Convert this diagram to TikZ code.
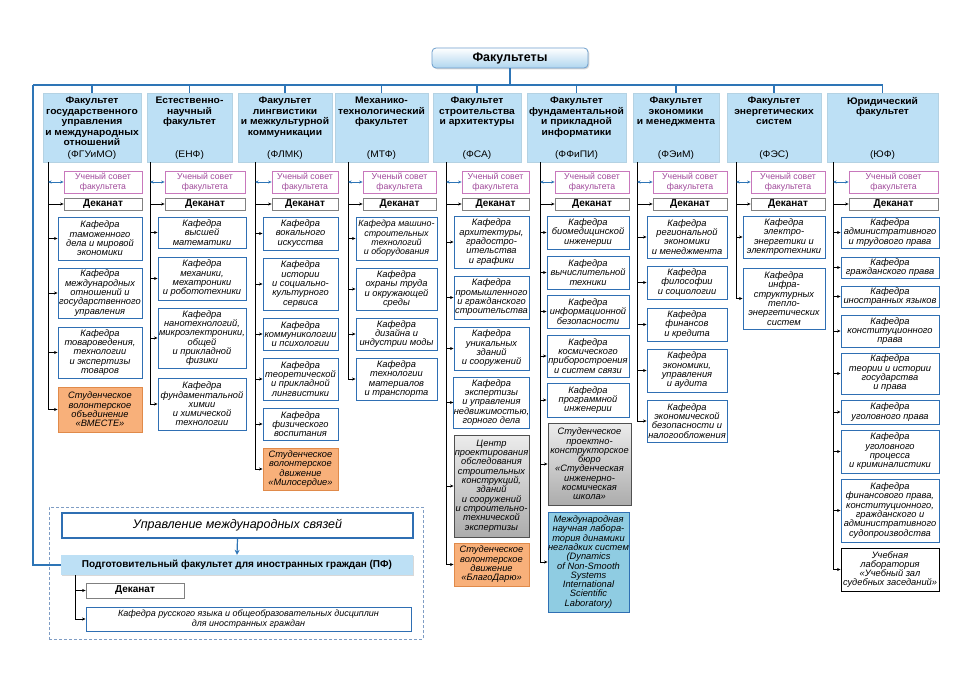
\documentclass[tikz,border=0pt]{standalone}
\usepackage{fontspec}
\setmainfont{Liberation Sans}
\newfontfamily\widefont[FakeStretch=1.08]{Liberation Sans}
\usetikzlibrary{arrows.meta,shadows,calc}
\definecolor{busc}{HTML}{2E75B6}
\definecolor{facfill}{HTML}{BDE0F5}
\definecolor{kafb}{HTML}{2F6FB3}
\definecolor{pinkb}{HTML}{C878BC}
\definecolor{pinkt}{HTML}{A0489A}
\definecolor{orf}{HTML}{F8B07A}
\definecolor{orb}{HTML}{E08A4A}
\definecolor{labf}{HTML}{8FCCE2}
\definecolor{grb}{HTML}{505050}
\definecolor{dekb}{HTML}{808080}
\definecolor{dashc}{HTML}{7F9DC4}
\newcommand\ftt{\widefont\fontsize{9.5}{10.5}\selectfont\bfseries}
\newcommand\fab{\widefont\fontsize{9.5}{10.5}\selectfont}
\newcommand\kt{\fontsize{9.3}{9.3}\selectfont\itshape}
\newcommand\stt{\fontsize{8.7}{10}\selectfont}
\newcommand\dtt{\fontsize{10}{11}\selectfont\bfseries}
\newcommand\bx[7]{\node[#1,minimum width={#5-#3},minimum height={#6-#4}] (#2) at ({(#3+#5)/2},{(#4+#6)/2}) {#7};}
\newcommand\fac[5]{%
  \node[facbox,minimum width={#3-#2},minimum height=69] (#1) at ({(#2+#3)/2},127.5) {};
  \node[ftitle,anchor=north] (#1t) at ($(#1.north)+(0,4)$) {#4};
  \node[fabbr] (#1a) at ($(#1.south)+(0,-7.5)$) {#5};}
\tikzset{
  shad/.style={drop shadow={shadow xshift=1.3pt,shadow yshift=-1.3pt,opacity=0.3}},
  facbox/.style={fill=facfill,draw=facfill!85!gray,line width=0.4pt,inner sep=0pt,shad},
  ftitle/.style={font=\ftt,align=center,inner sep=0pt},
  fabbr/.style={font=\fab,inner sep=0pt},
  kaf/.style={draw=kafb,line width=0.9pt,fill=white,inner sep=0pt,align=center,font=\kt,shad},
  sov/.style={draw=pinkb,line width=0.8pt,fill=white,text=pinkt,align=center,font=\stt,inner sep=0pt},
  dek/.style={draw=dekb,line width=0.8pt,fill=white,font=\dtt,inner sep=0pt},
  orng/.style={kaf,draw=orb,fill=orf},
  gry/.style={kaf,draw=grb,top color=gray!15,bottom color=gray!65},
  lab/.style={kaf,fill=labf},
  lab2/.style={kaf,draw=black},
  topbox/.style={draw=busc!70,line width=0.8pt,rounded corners=4pt,top color=white,bottom color=facfill!90!busc,font=\fontsize{12.5}{14}\selectfont\bfseries,inner sep=0pt,shad},
  bus/.style={draw=busc,line width=1.5pt},
  kline/.style={draw=black,line width=0.8pt},
  karr/.style={draw=black,line width=0.7pt,-{Stealth[length=3.5pt,width=3pt]}},
  uarr/.style={draw=busc,line width=0.9pt,{Stealth[length=3.5pt,width=3pt]}-{Stealth[length=3.5pt,width=3pt]}},
  barr/.style={draw=busc,line width=1.2pt,-{Stealth[length=5pt,width=5pt]}},
  dashbox/.style={draw=dashc,line width=1pt,dash pattern=on 3pt off 2pt,inner sep=0pt},
  upr/.style={draw=kafb,line width=1.1pt,fill=white,inner sep=0pt,font=\fontsize{12.5}{14}\selectfont\itshape,shad},
  pfs/.style={fill=facfill,inner sep=0pt,font=\fontsize{10}{11}\selectfont\bfseries,shad}
}
\begin{document}
\begin{tikzpicture}[x=1pt,y=-1pt]
\useasboundingbox[fill=white] (0,0) rectangle (960,679);

% bottom dashed area
\node[dashbox,minimum width=374,minimum height=132] (dz) at (236,573) {};

% top
\node[topbox,minimum width=156,minimum height=20] (top) at (510,58) {Факультеты};

% faculties
\fac{f1}{43}{141}{Факультет\\государственного\\управления\\и международных\\отношений}{(ФГУиМО)}
\fac{f2}{147}{232}{Естественно-\\научный\\факультет}{(ЕНФ)}
\fac{f3}{238}{332}{Факультет\\лингвистики\\и межкультурной\\коммуникации}{(ФЛМК)}
\fac{f4}{335}{428}{Механико-\\технологический\\факультет}{(МТФ)}
\fac{f5}{433}{521}{Факультет\\строительства\\и архитектуры}{(ФСА)}
\fac{f6}{527}{626}{Факультет\\фундаментальной\\и прикладной\\информатики}{(ФФиПИ)}
\fac{f7}{633}{719}{Факультет\\экономики\\и менеджмента}{(ФЭиМ)}
\fac{f8}{727}{821}{Факультет\\энергетических\\систем}{(ФЭС)}
\fac{f9}{827}{938}{Юридический\\факультет}{(ЮФ)}

% column 1
\coordinate (L1) at (48,0);
\bx{sov}{u1}{64}{171}{142}{193}{Ученый совет\\факультета}
\bx{dek}{d1}{64}{198}{142}{210}{Деканат}
\bx{kaf}{k1a}{58}{217}{142}{260}{Кафедра\\таможенного\\дела и мировой\\экономики}
\bx{kaf}{k1b}{58}{268}{142}{318}{Кафедра\\международных\\отношений и\\государственного\\управления}
\bx{kaf}{k1c}{58}{327}{142}{378}{Кафедра\\товароведения,\\технологии\\и экспертизы\\товаров}
\bx{orng}{k1d}{58}{387}{142}{432}{Студенческое\\волонтерское\\объединение\\«ВМЕСТЕ»}

% column 2
\coordinate (L2) at (150,0);
\bx{sov}{u2}{165}{171}{245}{193}{Ученый совет\\факультета}
\bx{dek}{d2}{165}{198}{245}{210}{Деканат}
\bx{kaf}{k2a}{158}{217}{246}{248}{Кафедра\\высшей\\математики}
\bx{kaf}{k2b}{158}{257}{246}{300}{Кафедра\\механики,\\мехатроники\\и робототехники}
\bx{kaf}{k2c}{158}{308}{246}{368}{Кафедра\\нанотехнологий,\\микроэлектроники,\\общей\\и прикладной\\физики}
\bx{kaf}{k2d}{158}{378}{246}{430}{Кафедра\\фундаментальной\\химии\\и химической\\технологии}

% column 3
\coordinate (L3) at (255,0);
\bx{sov}{u3}{272}{171}{338}{193}{Ученый совет\\факультета}
\bx{dek}{d3}{272}{198}{338}{210}{Деканат}
\bx{kaf}{k3a}{263}{217}{338}{250}{Кафедра\\вокального\\искусства}
\bx{kaf}{k3b}{263}{258}{338}{310}{Кафедра\\истории\\и социально-\\культурного\\сервиса}
\bx{kaf}{k3c}{263}{318}{338}{350}{Кафедра\\коммуникологии\\и психологии}
\bx{kaf}{k3d}{263}{358}{338}{400}{Кафедра\\теоретической\\и прикладной\\лингвистики}
\bx{kaf}{k3e}{263}{408}{338}{440}{Кафедра\\физического\\воспитания}
\bx{orng}{k3f}{263}{448}{338}{490}{Студенческое\\волонтерское\\движение\\«Милосердие»}

% column 4
\coordinate (L4) at (348,0);
\bx{sov}{u4}{363}{171}{436}{193}{Ученый совет\\факультета}
\bx{dek}{d4}{363}{198}{436}{210}{Деканат}
\bx{kaf,font=\fontsize{8.9}{9.3}\selectfont\itshape}{k4a}{356}{217}{437}{260}{Кафедра машино-\\строительных\\технологий\\и оборудования}
\bx{kaf}{k4b}{356}{268}{437}{310}{Кафедра\\охраны труда\\и окружающей\\среды}
\bx{kaf}{k4c}{356}{318}{437}{350}{Кафедра\\дизайна и\\индустрии моды}
\bx{kaf}{k4d}{356}{358}{437}{400}{Кафедра\\технологии\\материалов\\и транспорта}

% column 5
\coordinate (L5) at (446,0);
\bx{sov}{u5}{462}{171}{529}{193}{Ученый совет\\факультета}
\bx{dek}{d5}{462}{198}{529}{210}{Деканат}
\bx{kaf}{k5a}{454}{216}{529}{268}{Кафедра\\архитектуры,\\градостро-\\ительства\\и графики}
\bx{kaf}{k5b}{454}{276}{529}{319}{Кафедра\\промышленного\\и гражданского\\строительства}
\bx{kaf}{k5c}{454}{327}{529}{370}{Кафедра\\уникальных\\зданий\\и сооружений}
\bx{kaf}{k5d}{454}{377}{529}{428}{Кафедра\\экспертизы\\и управления\\недвижимостью,\\горного дела}
\bx{gry}{k5e}{454}{435}{529}{537}{Центр\\проектирования\\обследования\\строительных\\конструкций,\\зданий\\и сооружений\\и строительно-\\технической\\экспертизы}
\bx{orng}{k5f}{454}{543}{529}{586}{Студенческое\\волонтерское\\движение\\«БлагоДарю»}

% column 6
\coordinate (L6) at (540,0);
\bx{sov}{u6}{555}{171}{629}{193}{Ученый совет\\факультета}
\bx{dek}{d6}{555}{198}{629}{210}{Деканат}
\bx{kaf}{k6a}{547}{216}{629}{249}{Кафедра\\биомедицинской\\инженерии}
\bx{kaf}{k6b}{547}{256}{629}{289}{Кафедра\\вычислительной\\техники}
\bx{kaf}{k6c}{547}{295}{629}{328}{Кафедра\\информационной\\безопасности}
\bx{kaf}{k6d}{547}{335}{629}{377}{Кафедра\\космического\\приборостроения\\и систем связи}
\bx{kaf}{k6e}{547}{383}{629}{417}{Кафедра\\программной\\инженерии}
\bx{gry}{k6f}{548}{423}{631}{505}{Студенческое\\проектно-\\конструкторское\\бюро\\«Студенческая\\инженерно-\\космическая\\школа»}
\bx{lab}{k6g}{548}{512}{629}{612}{Международная\\научная лабора-\\тория динамики\\негладких систем\\(Dynamics\\of Non-Smooth\\Systems\\International\\Scientific\\Laboratory)}

% column 7
\coordinate (L7) at (637,0);
\bx{sov}{u7}{653}{171}{727}{193}{Ученый совет\\факультета}
\bx{dek}{d7}{653}{198}{727}{210}{Деканат}
\bx{kaf}{k7a}{647}{216}{727}{258}{Кафедра\\региональной\\экономики\\и менеджмента}
\bx{kaf}{k7b}{647}{266}{727}{299}{Кафедра\\философии\\и социологии}
\bx{kaf}{k7c}{647}{308}{727}{341}{Кафедра\\финансов\\и кредита}
\bx{kaf}{k7d}{647}{349}{727}{392}{Кафедра\\экономики,\\управления\\и аудита}
\bx{kaf}{k7e}{647}{400}{727}{442}{Кафедра\\экономической\\безопасности и\\налогообложения}

% column 8
\coordinate (L8) at (736,0);
\bx{sov}{u8}{751}{171}{825}{193}{Ученый совет\\факультета}
\bx{dek}{d8}{751}{198}{825}{210}{Деканат}
\bx{kaf}{k8a}{743}{216}{825}{258}{Кафедра\\электро-\\энергетики и\\электротехники}
\bx{kaf}{k8b}{743}{268}{825}{329}{Кафедра\\инфра-\\структурных\\тепло-\\энергетических\\систем}

% column 9
\coordinate (L9) at (833,0);
\bx{sov}{u9}{849}{171}{938}{193}{Ученый совет\\факультета}
\bx{dek}{d9}{849}{198}{938}{210}{Деканат}
\bx{kaf}{k9a}{841}{217}{939}{248}{Кафедра\\административного\\и трудового права}
\bx{kaf}{k9b}{841}{257}{939}{278}{Кафедра\\гражданского права}
\bx{kaf}{k9c}{841}{286}{939}{307}{Кафедра\\иностранных языков}
\bx{kaf}{k9d}{841}{315}{939}{347}{Кафедра\\конституционного\\права}
\bx{kaf}{k9e}{841}{353}{939}{394}{Кафедра\\теории и истории\\государства\\и права}
\bx{kaf}{k9f}{841}{400}{939}{424}{Кафедра\\уголовного права}
\bx{kaf}{k9g}{841}{430}{939}{473}{Кафедра\\уголовного\\процесса\\и криминалистики}
\bx{kaf}{k9h}{841}{479}{939}{542}{Кафедра\\финансового права,\\конституционного,\\гражданского и\\административного\\судопроизводства}
\bx{lab2}{k9i}{841}{548}{939}{591}{Учебная\\лаборатория\\«Учебный зал\\судебных заседаний»}

% bottom boxes
\bx{upr}{upr}{62}{513}{413}{538}{Управление международных связей}
\bx{pfs}{pf}{61}{555}{413}{575}{Подготовительный факультет для иностранных граждан (ПФ)}
\bx{dek}{pd}{86}{583}{184}{598}{Деканат}
\bx{kaf,font=\fontsize{9}{10}\selectfont\itshape}{pk}{86}{607}{411}{631}{Кафедра русского языка и общеобразовательных дисциплин\\для иностранных граждан}
\coordinate (LP) at (75,0);

% bus
\coordinate (bl) at (33,85);
\draw[bus] (top.south) -- (top.south |- bl);
\draw[bus] (bl) -- (bl -| f9.north);
\foreach \f in {f1,f2,f3,f4,f5,f6,f7,f8,f9} \draw[bus] (bl -| \f.north) -- (\f.north);
\draw[bus] (bl) -- (bl |- pf.west) -- (pf.west);
\draw[barr] (upr.south) -- (pf.north);

% column lines and arrows
\foreach \c/\last in {1/k1d,2/k2d,3/k3f,4/k4d,5/k5f,6/k6g,7/k7e,8/k8b,9/k9i} {
  \draw[kline] (f\c.south -| L\c) -- (L\c |- \last.west);
  \draw[uarr] (L\c |- u\c.west) -- (u\c.west);
  \draw[karr] (L\c |- d\c.west) -- (d\c.west);
}
\foreach \n in {k1a,k1b,k1c,k1d} \draw[karr] (L1 |- \n.west) -- (\n.west);
\foreach \n in {k2a,k2b,k2c,k2d} \draw[karr] (L2 |- \n.west) -- (\n.west);
\foreach \n in {k3a,k3b,k3c,k3d,k3e,k3f} \draw[karr] (L3 |- \n.west) -- (\n.west);
\foreach \n in {k4a,k4b,k4c,k4d} \draw[karr] (L4 |- \n.west) -- (\n.west);
\foreach \n in {k5a,k5b,k5c,k5d,k5e,k5f} \draw[karr] (L5 |- \n.west) -- (\n.west);
\foreach \n in {k6a,k6b,k6c,k6d,k6e,k6f,k6g} \draw[karr] (L6 |- \n.west) -- (\n.west);
\foreach \n in {k7a,k7b,k7c,k7d,k7e} \draw[karr] (L7 |- \n.west) -- (\n.west);
\foreach \n in {k8a,k8b} \draw[karr] (L8 |- \n.west) -- (\n.west);
\foreach \n in {k9a,k9b,k9c,k9d,k9e,k9f,k9g,k9h,k9i} \draw[karr] (L9 |- \n.west) -- (\n.west);
\draw[kline] (pf.south -| LP) -- (LP |- pk.west);
\draw[karr] (LP |- pd.west) -- (pd.west);
\draw[karr] (LP |- pk.west) -- (pk.west);
\end{tikzpicture}
\end{document}
